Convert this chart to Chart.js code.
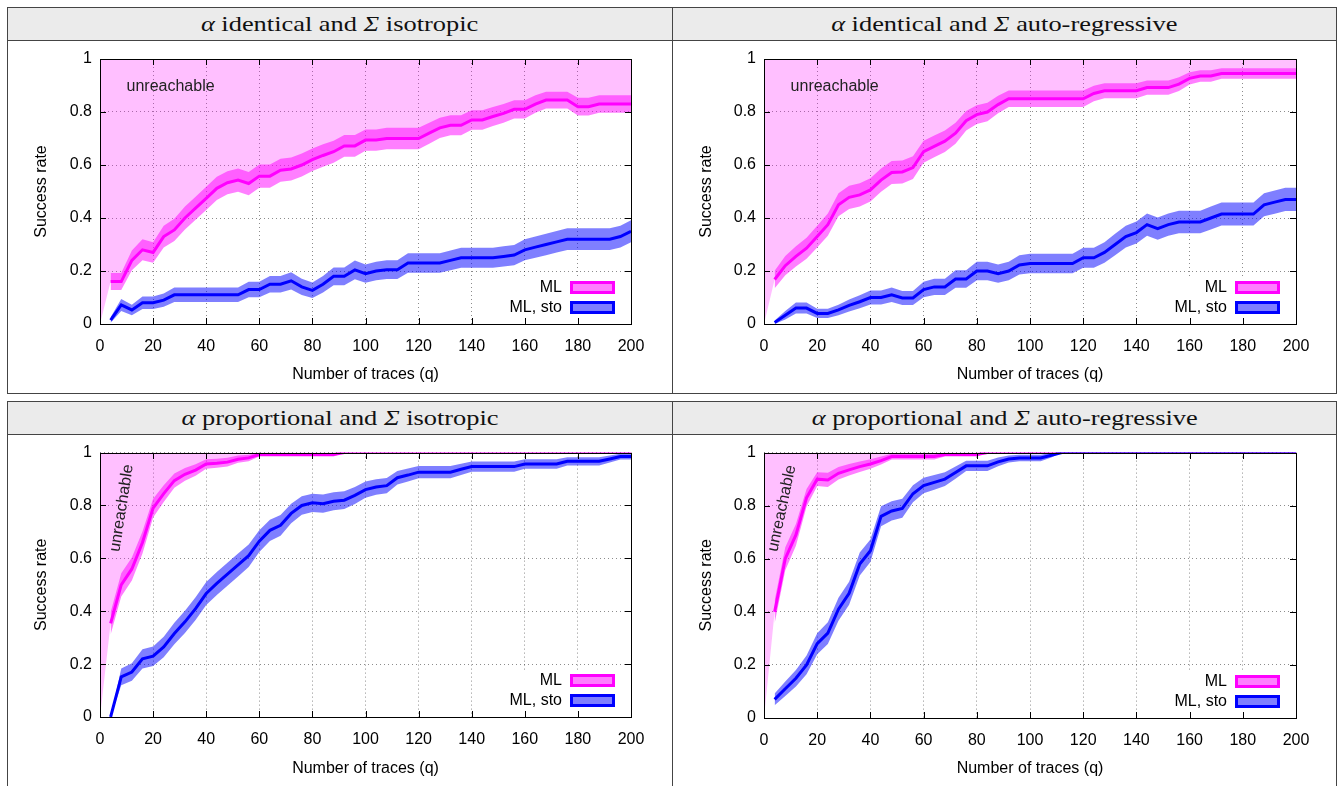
<!DOCTYPE html>
<html><head><meta charset="utf-8">
<script src="https://cdn.jsdelivr.net/npm/chart.js@4"></script>
<style>
html,body{margin:0;padding:0;background:#fff;width:1338px;height:786px;overflow:hidden;}
.cell{position:absolute;box-sizing:border-box;border:1px solid #444;}
.hdr{background:#ebebeb;display:flex;align-items:center;justify-content:center;font-family:'Liberation Serif',serif;font-size:22px;color:#111;}
.hdr .t{display:inline-block;transform:scaleX(1.2);white-space:nowrap;}
.hdr i{font-style:italic;}
canvas{position:absolute;}
</style></head><body>
<div class="cell hdr" style="left:7px;top:7px;width:666px;height:34px"><span class="t"><i>α</i> identical and <i>Σ</i> isotropic</span></div>
<div class="cell hdr" style="left:672px;top:7px;width:665px;height:34px"><span class="t"><i>α</i> identical and <i>Σ</i> auto-regressive</span></div>
<div class="cell" style="left:7px;top:40px;width:666px;height:354px"></div>
<div class="cell" style="left:672px;top:40px;width:665px;height:354px"></div>
<div class="cell hdr" style="left:7px;top:401px;width:666px;height:34px"><span class="t"><i>α</i> proportional and <i>Σ</i> isotropic</span></div>
<div class="cell hdr" style="left:672px;top:401px;width:665px;height:34px"><span class="t"><i>α</i> proportional and <i>Σ</i> auto-regressive</span></div>
<div class="cell" style="left:7px;top:434px;width:666px;height:400px"></div>
<div class="cell" style="left:672px;top:434px;width:665px;height:400px"></div>
<canvas id="c1" width="663" height="351" style="left:8px;top:41px"></canvas>
<canvas id="c2" width="662" height="351" style="left:673px;top:41px"></canvas>
<canvas id="c3" width="663" height="351" style="left:8px;top:435px"></canvas>
<canvas id="c4" width="662" height="351" style="left:673px;top:435px"></canvas>
<script>
// ---- data ----
const q = [4,8,12,16,20,24,28,32,36,40,44,48,52,56,60,64,68,72,76,80,84,88,92,96,100,104,108,112,116,120,124,128,132,136,140,144,148,152,156,160,164,168,172,176,180,184,188,192,196,200];

const idIsoML = [.16,.16,.24,.28,.27,.33,.355,.40,.437,.474,
  .512,.533,.543,.53,.558,.558,.58,.585,.60,.62,
  .636,.65,.672,.672,.694,.694,.70,.70,.70,.70,
  .72,.74,.75,.75,.77,.77,.783,.795,.81,.81,
  .83,.845,.845,.845,.82,.82,.83,.83,.83,.83];
const idIsoSto = [.015,.072,.053,.08,.08,.09,.11,.11,.11,.11,
  .11,.11,.11,.13,.13,.15,.15,.163,.14,.127,
  .15,.18,.18,.204,.19,.20,.205,.205,.23,.23,
  .23,.23,.24,.25,.25,.25,.25,.255,.26,.28,
  .29,.30,.31,.32,.32,.32,.32,.32,.33,.35];

const idArML = [.168,.22,.255,.286,.33,.375,.45,.478,.487,.506,
  .543,.572,.574,.59,.65,.67,.69,.72,.767,.79,
  .80,.828,.85,.85,.85,.85,.85,.85,.85,.85,
  .87,.88,.88,.88,.88,.892,.892,.892,.905,.927,
  .936,.936,.945,.945,.945,.945,.945,.945,.945,.945];
const idArSto = [.006,.033,.06,.06,.04,.04,.053,.07,.084,.10,
  .10,.11,.098,.098,.13,.14,.14,.17,.17,.20,
  .20,.19,.20,.223,.228,.228,.228,.228,.228,.25,
  .25,.27,.30,.33,.345,.375,.36,.375,.385,.385,
  .385,.40,.415,.415,.415,.415,.45,.46,.47,.47];

const prIsoML = [.354,.50,.56,.66,.79,.845,.894,.918,.934,.957,
  .96,.964,.975,.98,.993,.993,.993,.993,.993,.993,
  .993,.993,1,1,1,1,1,1,1,1,
  1,1,1,1,1,1,1,1,1,1,
  1,1,1,1,1,1,1,1,1,1];
const prIsoSto = [0,.152,.17,.22,.23,.265,.316,.36,.41,.467,
  .505,.54,.575,.61,.665,.706,.725,.77,.80,.81,
  .807,.816,.82,.838,.86,.87,.875,.905,.915,.926,
  .926,.926,.926,.937,.947,.947,.947,.947,.947,.957,
  .957,.957,.957,.967,.967,.967,.967,.976,.985,.985];

const prArML = [.40,.60,.69,.83,.90,.897,.922,.935,.947,.957,
  .97,.985,.985,.985,.985,.985,.993,.993,.993,.993,
  1,1,1,1,1,1,1,1,1,1,
  1,1,1,1,1,1,1,1,1,1,
  1,1,1,1,1,1,1,1,1,1];
const prArSto = [.07,.11,.15,.20,.28,.32,.41,.47,.58,.63,
  .76,.78,.79,.845,.876,.888,.90,.925,.95,.95,
  .95,.965,.976,.98,.98,.98,.99,1,1,1,
  1,1,1,1,1,1,1,1,1,1,
  1,1,1,1,1,1,1,1,1,1];

const xTicks = [0,20,40,60,80,100,120,140,160,180,200];
const xTickLabels = ['0','20','40','60','80','100','120','140','160','180','200'];
const yTicks = [0,0.2,0.4,0.6,0.8,1];
const yTickLabels = ['0','0.2','0.4','0.6','0.8','1'];
const seriesNames = ['ML','ML, sto'];
const titles = ['Number of traces (q)','Success rate'];
const N_RUNS = 500; // experiments per point (95% binomial confidence band)

// ---- styling ----
const FONT = 'Liberation Sans';
const C_ML = '#ff00ff', C_ML_BAND = 'rgba(255,0,255,0.5)', C_UNREACH = 'rgba(255,0,255,0.25)';
const C_STO = '#0000ff', C_STO_BAND = 'rgba(0,0,255,0.5)';

function ci(p){ return 1.96*Math.sqrt(p*(1-p)/N_RUNS); }
function pts(xs, ys, f){ return xs.map((x,i)=>({x:x, y: f ? f(ys[i]) : ys[i]})); }
const lo = p => Math.max(0, p - ci(p));
const hi = p => Math.min(1, p + ci(p));

const overlay = {
  id:'overlay',
  afterDatasetsDraw(chart){
    const {ctx, chartArea:a, scales:{x, y}} = chart;
    const o = chart.options.plugins.overlay;
    ctx.save();
    // unreachable label
    ctx.font = '16px ' + FONT;
    ctx.fillStyle = '#222';
    ctx.textBaseline = 'middle';
    ctx.textAlign = o.align;
    ctx.translate(x.getPixelForValue(o.tx), y.getPixelForValue(o.ty));
    ctx.rotate(o.rot*Math.PI/180);
    ctx.fillText('unreachable', 0, 0);
    ctx.setTransform(1,0,0,1,0,0);
    // key box
    const R = Math.round(a.right), B = Math.round(a.bottom);
    ctx.fillStyle = '#fff';
    ctx.fillRect(R-131, B-47, 131, 47);
    const sw = [[C_ML, C_ML_BAND, B-43],[C_STO, C_STO_BAND, B-23]];
    sw.forEach((s, i) => {
      ctx.fillStyle = '#fff'; ctx.fillRect(R-61, s[2], 45, 13);
      ctx.fillStyle = s[1]; ctx.fillRect(R-61, s[2], 45, 13);
      ctx.strokeStyle = s[0]; ctx.lineWidth = 3;
      ctx.strokeRect(R-61+1.5, s[2]+1.5, 42, 10);
      ctx.fillStyle = '#000'; ctx.textAlign = 'right'; ctx.textBaseline = 'middle';
      ctx.fillText(seriesNames[i], R-69, s[2]+7);
    });
    // frame + inward ticks
    ctx.strokeStyle = '#000'; ctx.lineWidth = 1;
    const L = Math.round(a.left), T = Math.round(a.top);
    ctx.strokeRect(L+0.5, T+0.5, R-L, B-T);
    ctx.beginPath();
    xTicks.forEach(v => { const px = Math.round(x.getPixelForValue(v))+0.5;
      ctx.moveTo(px, B); ctx.lineTo(px, B-6); ctx.moveTo(px, T); ctx.lineTo(px, T+6); });
    yTicks.forEach(v => { const py = Math.round(y.getPixelForValue(v))+0.5;
      ctx.moveTo(L, py); ctx.lineTo(L+6, py); ctx.moveTo(R, py); ctx.lineTo(R-6, py); });
    ctx.stroke();
    ctx.restore();
  }
};

function makeChart(id, ml, sto, geo, lab){
  const line = (data, extra) => Object.assign({data, pointRadius:0, borderWidth:0, tension:0, fill:false}, extra);
  new Chart(document.getElementById(id), {
    type:'line',
    data:{ datasets:[
      line([{x:0,y:0}].concat(pts(q, ml)), {fill:'end', backgroundColor:C_UNREACH, order:6}),
      line(pts(q, ml, lo), {order:5}),
      line(pts(q, ml, hi), {fill:{target:1}, backgroundColor:C_ML_BAND, order:4}),
      line(pts(q, ml), {borderColor:C_ML, borderWidth:3, order:3, label:seriesNames[0]}),
      line(pts(q, sto, lo), {order:2}),
      line(pts(q, sto, hi), {fill:{target:4}, backgroundColor:C_STO_BAND, order:1}),
      line(pts(q, sto), {borderColor:C_STO, borderWidth:3, order:0, label:seriesNames[1]})
    ]},
    options:{
      responsive:false, animation:false, devicePixelRatio:1,
      layout:{padding:{left:0, right:geo.right, top:geo.top, bottom:0}},
      plugins:{legend:{display:false}, tooltip:{enabled:false}, overlay:lab},
      scales:{
        x:{type:'linear', min:0, max:200,
          afterFit(s){ s.height = geo.xh; },
          afterBuildTicks(s){ s.ticks = xTicks.map(v=>({value:v})); },
          ticks:{autoSkip:false, maxRotation:0, padding:13, color:'#000', font:{family:FONT, size:16},
            callback:(v,i)=>xTickLabels[i]},
          grid:{color:'rgba(0,0,0,0.45)', lineWidth:1, drawTicks:false},
          border:{display:false, dash:[1,3]},
          title:{display:true, text:titles[0], color:'#000', font:{family:FONT, size:16}, padding:{top:0,bottom:8}}
        },
        y:{type:'linear', min:0, max:1,
          afterFit(s){ s.width = geo.left; },
          afterBuildTicks(s){ s.ticks = yTicks.map(v=>({value:v})); },
          ticks:{autoSkip:false, padding:8, color:'#000', font:{family:FONT, size:16},
            callback:(v,i)=>yTickLabels[i]},
          grid:{color:'rgba(0,0,0,0.45)', lineWidth:1, drawTicks:false},
          border:{display:false, dash:[1,3]},
          title:{display:true, text:titles[1], color:'#000', font:{family:FONT, size:16}, padding:{top:24,bottom:0}}
        }
      }
    },
    plugins:[overlay]
  });
}

makeChart('c1', idIsoML, idIsoSto, {left:92, right:40, top:18, xh:68}, {tx:10, ty:0.895, rot:0, align:'left'});
makeChart('c2', idArML, idArSto, {left:91, right:39, top:18, xh:68}, {tx:10, ty:0.895, rot:0, align:'left'});
makeChart('c3', prIsoML, prIsoSto, {left:92, right:40, top:17, xh:69}, {tx:8.2, ty:0.79, rot:-81, align:'center'});
makeChart('c4', prArML, prArSto, {left:91, right:39, top:17, xh:68}, {tx:6.8, ty:0.79, rot:-78, align:'center'});
</script>
</body></html>
